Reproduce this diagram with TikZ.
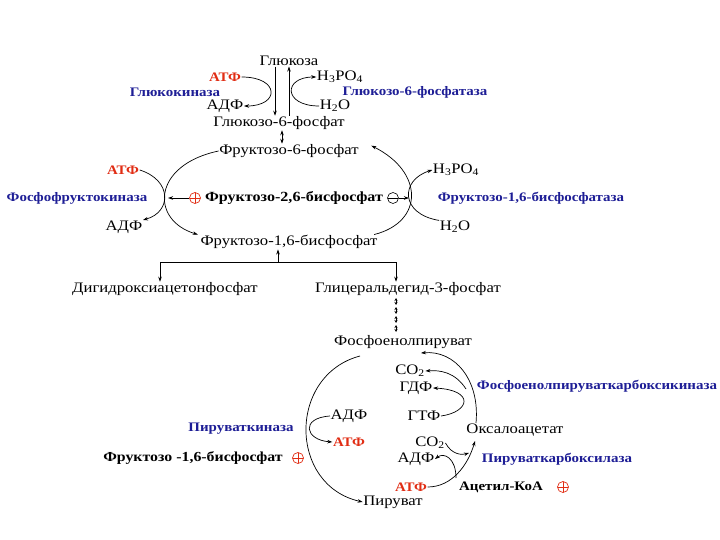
\documentclass[tikz,border=0pt]{standalone}
\usepackage{fontspec}
\setmainfont{Liberation Serif}[FakeStretch=1.15]
\usetikzlibrary{arrows.meta}
\definecolor{enzblue}{RGB}{30,30,150}
\definecolor{atpred}{RGB}{225,45,20}
\tikzset{
 txt/.style={font=\fontsize{14.5}{16}\selectfont, inner sep=0.5pt},
 bld/.style={inner sep=0.5pt, font=\fontsize{13}{15}\selectfont\bfseries},
 enz/.style={bld, text=enzblue},
 atpc/.style={bld, text=atpred},
 arr/.style={-{Stealth[length=5pt,width=3.5pt]}, line width=0.7pt},
 darr/.style={{Stealth[length=5pt,width=3.5pt]}-{Stealth[length=5pt,width=3.5pt]}, line width=0.7pt},
 sarr/.style={{Stealth[length=3pt,width=3pt]}-{Stealth[length=3pt,width=3pt]}, line width=0.6pt},
 ln/.style={line width=0.7pt},
 pluscirc/.style={circle, draw=atpred, line width=0.7pt, minimum size=11pt, inner sep=0pt,
   path picture={\draw[atpred, line width=0.9pt] (path picture bounding box.north) -- (path picture bounding box.south) (path picture bounding box.west) -- (path picture bounding box.east);}},
 minuscirc/.style={circle, draw, line width=0.6pt, minimum size=11pt, inner sep=0pt,
   path picture={\draw[line width=0.7pt] (path picture bounding box.west) -- (path picture bounding box.east);}},
}
\begin{document}
\begin{tikzpicture}[x=1pt,y=-1pt]
\useasboundingbox[fill=white] (0,0) rectangle (720,540);
% --- top: glucose
\node[txt] (glc) at (289,61) {Глюкоза};
\node[atpc] (atp1) at (225,77) {АТФ};
\node[txt] (h3po4a) at (340,77) {H\textsubscript{3}PO\textsubscript{4}};
\node[enz] (gk) at (175,92) {Глюкокиназа};
\node[enz] (g6pase) at (415,92) {Глюкозо-6-фосфатаза};
\node[txt] (adp1) at (225,106) {АДФ};
\node[txt] (h2oa) at (335,106) {H\textsubscript{2}O};
\node[txt] (g6p) at (279,123) {Глюкозо-6-фосфат};
\draw[arr] ([xshift=-14pt]glc.south) -- ([xshift=-14pt]glc.south |- g6p.north);
\draw[arr] (glc.south |- g6p.north) -- (glc.south);
\draw[arr] (atp1.east) .. controls (280,77) and (280,106) .. (adp1.east);
\draw[arr] (h2oa.west) .. controls (283,106) and (283,77) .. (h3po4a.west);
% --- fructose cycle
\node[txt] (f6p) at (289,151) {Фруктозо-6-фосфат};
\draw[darr] ([xshift=3pt]g6p.south) -- ([xshift=3pt]g6p.south |- f6p.north);
\node[atpc] (atp2) at (123,170) {АТФ};
\node[txt] (h3po4b) at (456,170) {H\textsubscript{3}PO\textsubscript{4}};
\node[enz] (pfk) at (77,198) {Фосфофруктокиназа};
\node[pluscirc] (p1) at (195,198) {};
\node[bld, font=\fontsize{14}{16}\selectfont\bfseries] (f26bp) at (294,198) {Фруктозо-2,6-бисфосфат};
\node[minuscirc] (m1) at (393,198) {};
\node[enz] (fbpase) at (531,198) {Фруктозо-1,6-бисфосфатаза};
\node[txt] (adp2) at (124,227) {АДФ};
\node[txt] (h2ob) at (455,227) {H\textsubscript{2}O};
\node[txt] (f16bp) at (289,242) {Фруктозо-1,6-бисфосфат};
\coordinate (lcross) at (168,198);
\coordinate (rcross) at (409,198);
\draw[arr] (f6p.west) .. controls (152,165) and (150,220) .. ([xshift=-2pt]f16bp.north west);
\draw[arr] (atp2.east) .. controls (172,180) and (172,212) .. (adp2.north east);
\draw[arr] (p1.west) -- (lcross);
\draw[arr] ([xshift=-4pt]f16bp.north east) .. controls (424,222) and (424,172) .. ([xshift=12pt,yshift=-2pt]f6p.north east);
\draw[arr] (h2ob.north west) .. controls (400,214) and (400,180) .. (h3po4b.west);
\draw[arr] (m1.east) -- (rcross);
% --- branch
\coordinate (br) at (278,262);
\node[txt] (dhap) at (165,289) {Дигидроксиацетонфосфат};
\node[txt] (gap) at (408,289) {Глицеральдегид-3-фосфат};
\draw[arr] (br) -- (br |- f16bp.south);
\draw[ln] (160,262) -- (396,262);
\draw[arr] (160,262) -- (160,262 |- dhap.north);
\draw[arr] (396,262) -- (396,262 |- gap.north);
% --- gluconeogenesis
\node[txt] (pep) at (403,342) {Фосфоенолпируват};
\foreach \i in {0,1,2,3} {
  \draw[sarr] (396,{298+9*\i}) -- (396,{305+9*\i});
}
\node[txt] (co2a) at (410,371) {CO\textsubscript{2}};
\node[txt] (gdp) at (416,388) {ГДФ};
\node[enz] (pepck) at (597,386) {Фосфоенолпируваткарбоксикиназа};
\node[txt] (adp3) at (349,416) {АДФ};
\node[txt] (gtp) at (424,416) {ГТФ};
\node[txt] (oaa) at (515,430) {Оксалоацетат};
\node[enz] (pk) at (241,429) {Пируваткиназа};
\node[atpc] (atp3) at (349,442) {АТФ};
\node[txt] (co2b) at (430,443) {CO\textsubscript{2}};
\node[bld, font=\fontsize{13.8}{15}\selectfont\bfseries] (f16bp2) at (193,458) {Фруктозо -1,6-бисфосфат};
\node[pluscirc] (p2) at (298,458) {};
\node[txt] (adp4) at (416,459) {АДФ};
\node[enz] (pc) at (557,459) {Пируваткарбоксилаза};
\node[atpc] (atp4) at (411,487) {АТФ};
\node[bld] (acoa) at (501,487) {Ацетил-КоА};
\node[pluscirc] (p3) at (563,487) {};
\node[txt] (pyr) at (393,502) {Пируват};
% left arc
\draw[arr] (360,356) .. controls (288,375) and (288,485) .. (pyr.west);
\draw[arr] (adp3.west) .. controls (300,418) and (305,440) .. (atp3.west);
% right upper arc
\draw[arr] (476,423) .. controls (480,380) and (455,350) .. (421,353);
\draw[arr] (gtp.east) .. controls (470,412) and (475,390) .. (gdp.east);
\draw[arr] (466,389) .. controls (455,372) and (440,370) .. (co2a.east);
% right lower
\draw[arr] (atp4.east) .. controls (452,487) and (468,465) .. (475,441);
\draw[arr] (456,478) .. controls (456,458) and (444,452) .. (adp4.east);
\draw[arr] (co2b.east) .. controls (452,455) and (462,455) .. (469,453);
\end{tikzpicture}
\end{document}
